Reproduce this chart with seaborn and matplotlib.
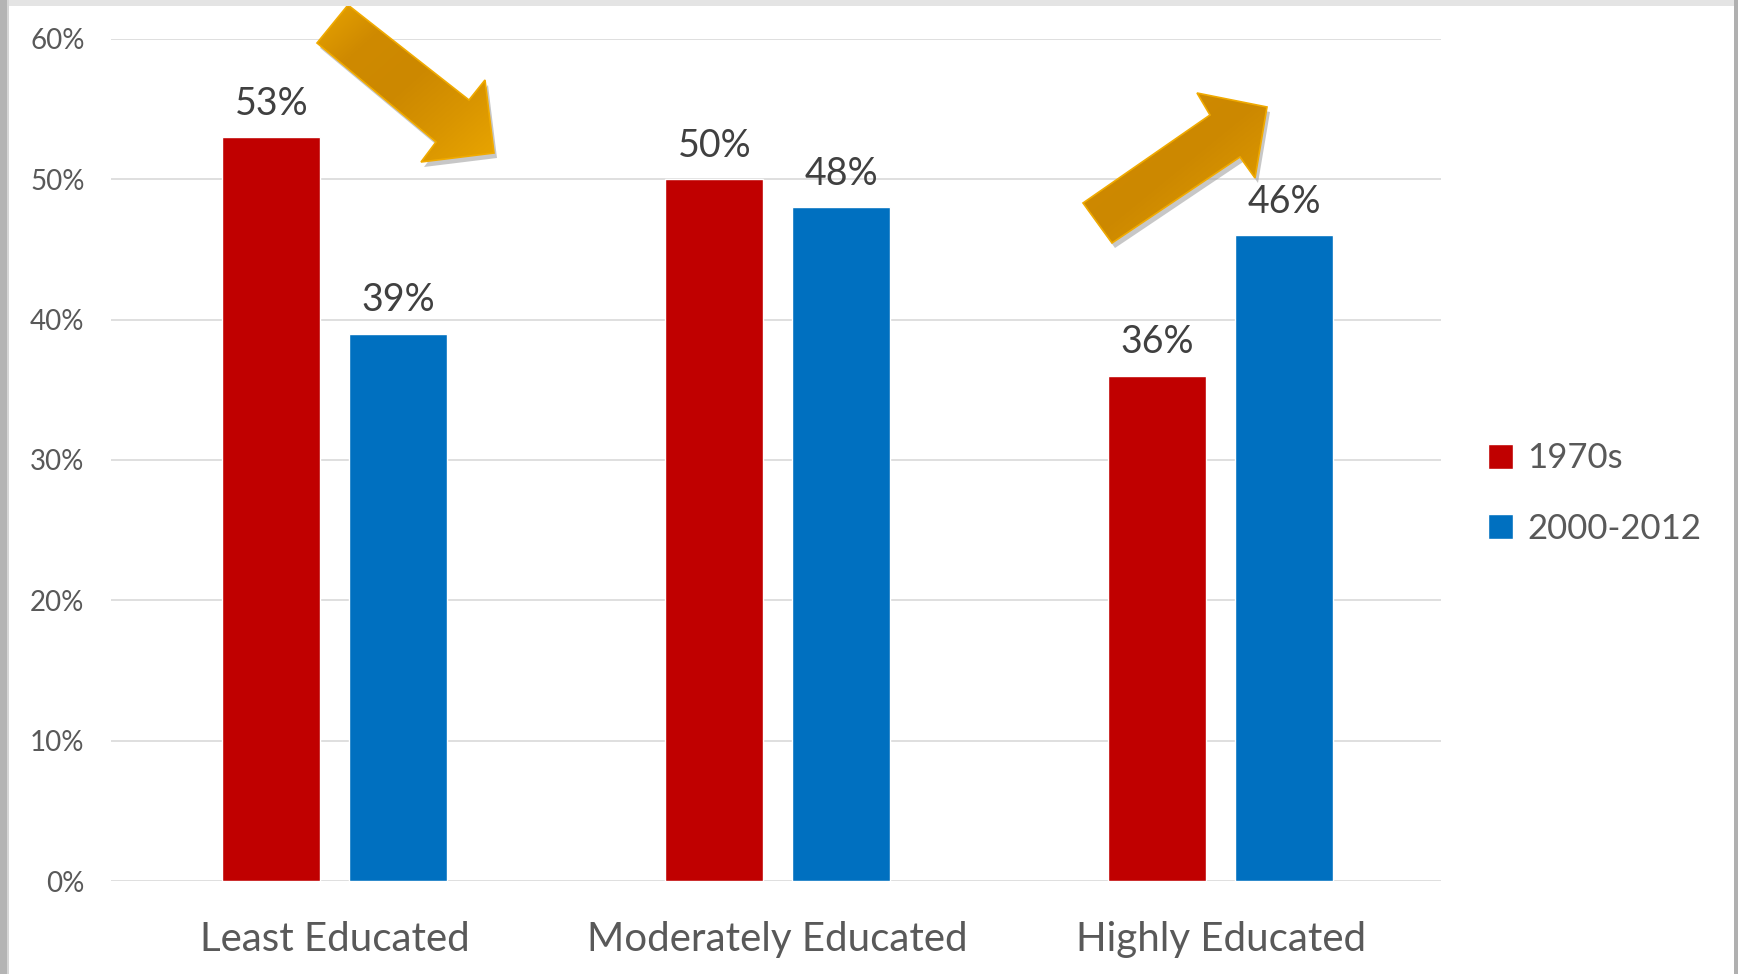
import numpy as np
import pandas as pd
import matplotlib
matplotlib.use("Agg")
import matplotlib.pyplot as plt
import seaborn as sns
from matplotlib.patches import Polygon, Rectangle
from matplotlib.colors import LinearSegmentedColormap

categories = ["Least Educated", "Moderately Educated", "Highly Educated"]
periods = ["1970s", "2000-2012"]
values_1970s = [53, 50, 36]
values_2000_2012 = [39, 48, 46]
ytick_values = [0, 10, 20, 30, 40, 50, 60]
colors = ["#C00000", "#0070C0"]

df = pd.DataFrame({
    "category": categories * 2,
    "period": [periods[0]] * 3 + [periods[1]] * 3,
    "value": values_1970s + values_2000_2012,
})

sns.set_theme(style="white")
plt.rcParams["font.family"] = ["Lato", "DejaVu Sans"]

W, H = 1738, 974
fig = plt.figure(figsize=(W / 100, H / 100), dpi=100)
fig.patch.set_facecolor("white")
ax = fig.add_axes([111 / W, 1 - 881 / H, (1441 - 111) / W, (881 - 38.8) / H])

sns.barplot(data=df, x="category", y="value", hue="period", order=categories,
            hue_order=periods, palette=colors, width=0.572, gap=0.227,
            saturation=1, ax=ax, errorbar=None, legend=True)

ax.set_xlim(-0.505, 2.497)
ax.set_ylim(0, 60)
ax.set_yticks(ytick_values)
ax.set_yticklabels([f"{v}%" for v in ytick_values], fontsize=20, color="#595959")
ax.tick_params(axis="y", length=0, pad=19)
ax.tick_params(axis="x", length=0, pad=29, labelsize=29, labelcolor="#595959")
ax.set_xlabel("")
ax.set_ylabel("")
ax.grid(axis="y", color="#D9D9D9", linewidth=1.2)
ax.set_axisbelow(True)
for s in ax.spines.values():
    s.set_visible(False)

for cont in ax.containers:
    ax.bar_label(cont, fmt="%d%%", fontsize=27, color="#404040", padding=11)

leg = ax.legend(loc="center left", bbox_to_anchor=(1488 / W, 1 - 493.5 / H),
                bbox_transform=fig.transFigure, frameon=False, fontsize=25,
                handlelength=0.72, handleheight=0.72, handletextpad=0.4,
                labelspacing=1.1, borderpad=0, borderaxespad=0)
for t in leg.get_texts():
    t.set_color("#595959")

# overlay for decorations (frame + arrows)
ov = fig.add_axes([0, 0, 1, 1], zorder=5)
ov.set_xlim(0, W)
ov.set_ylim(H, 0)
ov.axis("off")
ov.patch.set_alpha(0)

# slide frame
ov.add_patch(Rectangle((0, 0), W, 6, color="#E4E4E4", lw=0, zorder=6))
ov.add_patch(Rectangle((0, 0), 7, H, color="#B4B4B4", lw=0, zorder=6))
ov.add_patch(Rectangle((7, 0), 2, H, color="#D6D6D6", lw=0, zorder=6))
ov.add_patch(Rectangle((W - 4, 0), 4, H, color="#B0B0B0", lw=0, zorder=6))

arrow_down = [(317, 43), (348, 5), (469, 100), (485, 80), (494, 153), (421, 162), (436, 142)]
arrow_up = [(1083, 203), (1210, 115), (1197, 93), (1267, 107), (1255, 178), (1240, 157), (1112, 243)]

cmap = LinearSegmentedColormap.from_list("gold", ["#E8A400", "#CF8A00", "#CC8800", "#D99500", "#E9A500"])
for pts in (arrow_down, arrow_up):
    pts = np.array(pts, dtype=float)
    shadow = Polygon(pts + np.array([3, 5]), closed=True, facecolor="#9A9A9A",
                     edgecolor="none", alpha=0.55, zorder=1)
    ov.add_patch(shadow)
    poly = Polygon(pts, closed=True, facecolor="none", edgecolor="#F0AA00",
                   linewidth=1.2, zorder=3)
    ov.add_patch(poly)
    x0, y0 = pts.min(axis=0)
    x1, y1 = pts.max(axis=0)
    gx, gy = np.meshgrid(np.linspace(0, 1, 100), np.linspace(0, 1, 100))
    grad = (gx + gy) / 2
    im = ov.imshow(grad, cmap=cmap, extent=(x0, x1, y1, y0), origin="upper",
                   zorder=2, aspect="auto", interpolation="bilinear")
    im.set_clip_path(poly)

fig.savefig("out.png", dpi=100, facecolor="white")
